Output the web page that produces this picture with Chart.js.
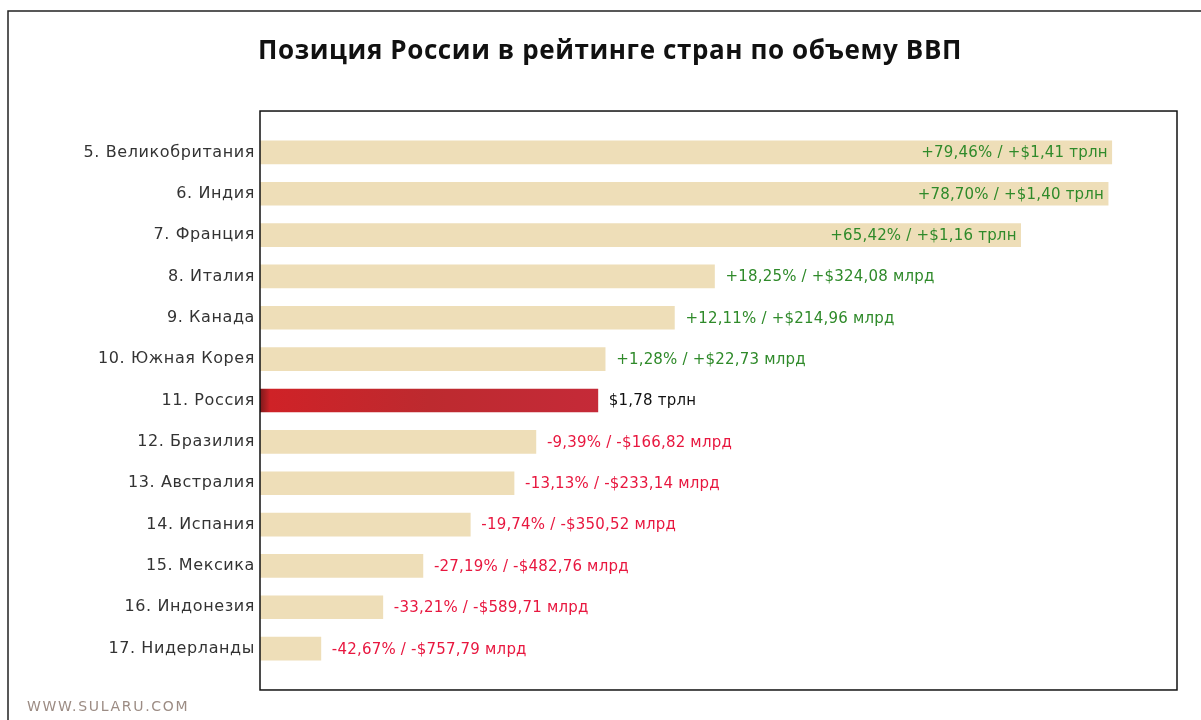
<!DOCTYPE html>
<html>
<head>
<meta charset="utf-8">
<script src="https://cdn.jsdelivr.net/npm/chart.js@4.4.1/dist/chart.umd.min.js"></script>
<style>
  html, body { margin: 0; padding: 0; background: #fff; }
</style>
</head>
<body>
<canvas id="gdpChart" width="1201" height="720"></canvas>
<script>
// --- Data ---
const countries = [
  '5. Великобритания', '6. Индия', '7. Франция', '8. Италия', '9. Канада',
  '10. Южная Корея', '11. Россия', '12. Бразилия', '13. Австралия',
  '14. Испания', '15. Мексика', '16. Индонезия', '17. Нидерланды'
];
// ВВП, трлн $
const gdpValues = [3.19, 3.18, 2.94, 2.10, 1.99, 1.80, 1.78, 1.61, 1.55, 1.43, 1.30, 1.19, 1.02];
const valueLabels = [
  '+79,46% / +$1,41 трлн', '+78,70% / +$1,40 трлн', '+65,42% / +$1,16 трлн',
  '+18,25% / +$324,08 млрд', '+12,11% / +$214,96 млрд', '+1,28% / +$22,73 млрд',
  '$1,78 трлн', '-9,39% / -$166,82 млрд', '-13,13% / -$233,14 млрд',
  '-19,74% / -$350,52 млрд', '-27,19% / -$482,76 млрд', '-33,21% / -$589,71 млрд',
  '-42,67% / -$757,79 млрд'
];
const russiaIndex = 6;

// --- Colors ---
const beige = '#EEDEB8';
const green = '#2f8a2a';
const red = '#e8173f';

function barColor(c) {
  if (c.dataIndex !== russiaIndex) return beige;
  const area = c.chart.chartArea;
  const xScale = c.chart.scales.x;
  if (!area || !xScale) return '#c0282e';
  const x0 = area.left;
  const x1 = xScale.getPixelForValue(gdpValues[russiaIndex]);
  if (!isFinite(x0) || !isFinite(x1) || x1 <= x0) return '#c0282e';
  const g = c.chart.ctx.createLinearGradient(x0, 0, x1, 0);
  g.addColorStop(0, '#7c1a1c');
  g.addColorStop(0.03, '#cf2227');
  g.addColorStop(0.5, '#bd2a2f');
  g.addColorStop(1, '#c52a38');
  return g;
}

// --- Frame, value labels, watermark ---
const decorPlugin = {
  id: 'decor',
  beforeDraw(chart) {
    const ctx = chart.ctx;
    ctx.save();
    ctx.fillStyle = '#fff';
    ctx.fillRect(0, 0, chart.width, chart.height);
    ctx.restore();
    // the original's labels are set a little wider
    ctx.letterSpacing = '0.6px';
  },
  afterDatasetsDraw(chart) {
    const ctx = chart.ctx;
    const a = chart.chartArea;
    const step = (a.bottom - a.top) / countries.length;

    // plot frame
    ctx.save();
    ctx.strokeStyle = '#111';
    ctx.lineWidth = 1.5;
    ctx.strokeRect(a.left, a.top - step / 2, a.right - a.left, a.bottom - a.top + step);

    // value labels
    ctx.font = '15px "DejaVu Sans"';
    ctx.letterSpacing = '0.2px';
    ctx.textBaseline = 'middle';
    chart.getDatasetMeta(0).data.forEach((bar, i) => {
      const txt = valueLabels[i];
      const w = ctx.measureText(txt).width;
      ctx.fillStyle = txt[0] === '+' ? green : (txt[0] === '-' ? red : '#111');
      if (bar.x + 11 + w > a.right - 10) {
        ctx.textAlign = 'right';
        ctx.fillText(txt, bar.x - 4, bar.y + 1);
      } else {
        ctx.textAlign = 'left';
        ctx.fillText(txt, bar.x + 11, bar.y + 1);
      }
    });
    ctx.restore();
  },
  afterDraw(chart) {
    const ctx = chart.ctx;
    ctx.save();
    // outer frame (top + left)
    ctx.strokeStyle = '#222';
    ctx.lineWidth = 1.5;
    ctx.beginPath();
    ctx.moveTo(chart.width, 11);
    ctx.lineTo(8, 11);
    ctx.lineTo(8, chart.height);
    ctx.stroke();
    // watermark
    ctx.font = '14px "DejaVu Sans"';
    ctx.letterSpacing = '1.7px';
    ctx.fillStyle = '#9c8c84';
    ctx.textAlign = 'left';
    ctx.textBaseline = 'middle';
    ctx.fillText('WWW.SULARU.COM', 27, 707);
    ctx.restore();
    ctx.letterSpacing = '0px';
  }
};

// --- Chart ---
const chart = new Chart(document.getElementById('gdpChart').getContext('2d'), {
  type: 'bar',
  data: {
    labels: countries,
    datasets: [{
      data: gdpValues,
      backgroundColor: barColor,
      borderWidth: 0,
      barThickness: 23
    }]
  },
  options: {
    indexAxis: 'y',
    responsive: false,
    animation: false,
    layout: { padding: { left: 43, right: 24, top: 0, bottom: 50.7 } },
    scales: {
      x: {
        display: false,
        min: 0.853,
        max: 3.369
      },
      y: {
        grid: { display: false, drawTicks: false },
        border: { display: false },
        ticks: {
          color: '#333',
          padding: 5,
          font: { family: 'DejaVu Sans', size: 16 }
        },
        afterFit(scale) { scale.width = 217; }
      }
    },
    plugins: {
      legend: { display: false },
      tooltip: { enabled: false },
      title: {
        display: true,
        text: 'Позиция России в рейтинге стран по объему ВВП',
        color: '#111',
        font: { family: 'Open Sans', size: 26, weight: 'bold' },
        padding: { top: 36, bottom: 64.5 }
      }
    }
  },
  plugins: [decorPlugin]
});
</script>
</body>
</html>
